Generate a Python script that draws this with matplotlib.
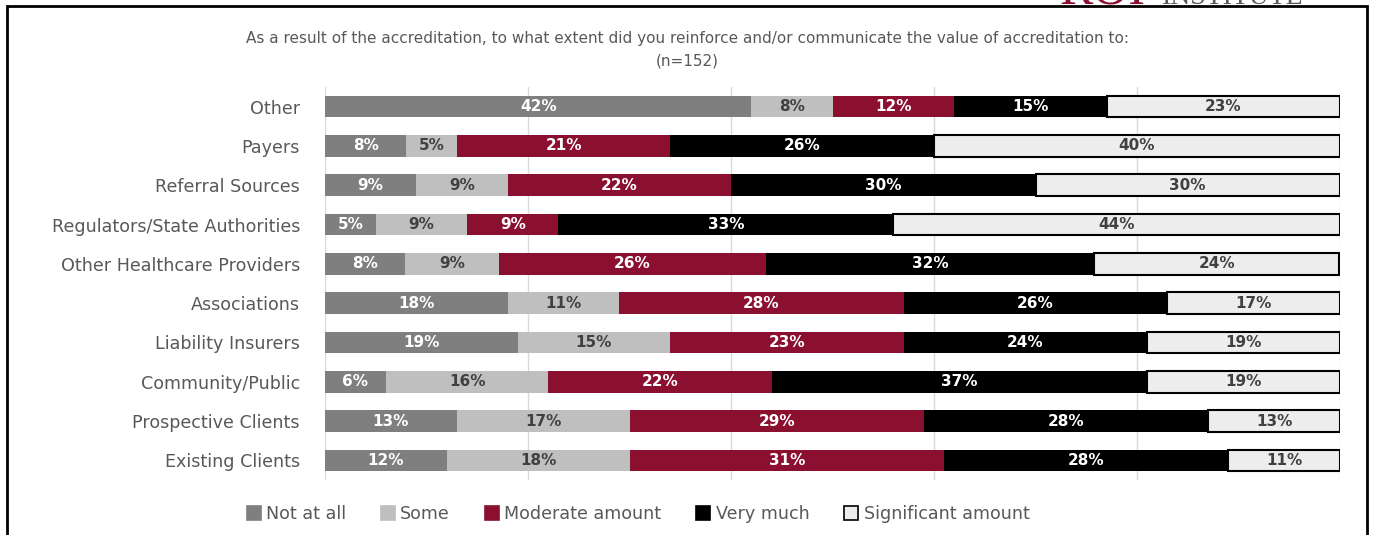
import numpy as np
import matplotlib.pyplot as plt
from matplotlib.patches import Rectangle, Patch

# categories top -> bottom
categories = ['Other', 'Payers', 'Referral Sources', 'Regulators/State Authorities',
              'Other Healthcare Providers', 'Associations', 'Liability Insurers',
              'Community/Public', 'Prospective Clients', 'Existing Clients']
series = ['Not at all', 'Some', 'Moderate amount', 'Very much', 'Significant amount']

not_at_all  = [42, 8, 9, 5, 7.9, 18, 19, 6, 13, 12]
some        = [8, 5, 9, 9, 9.2, 11, 15, 16, 17, 18]
moderate    = [12, 21, 22, 9, 26.3, 28, 23, 22, 29, 31]
very_much   = [15, 26, 30, 33, 32.4, 26, 24, 37, 28, 28]
significant = [23, 40, 30, 44, 24.1, 17, 19, 19, 13, 11]

colors = ['#7f7f7f', '#bfbfbf', '#8b1030', '#000000', '#ededed']
text_colors = ['white', '#404040', 'white', 'white', '#404040']

fig = plt.figure(figsize=(13.74, 5.35), dpi=100)
ax = fig.add_axes([325 / 1374, 1 - 480 / 535, 1015 / 1374, 393 / 535])

data = [not_at_all, some, moderate, very_much, significant]
y = np.arange(len(categories))
left = np.zeros(len(categories))
for i, vals in enumerate(data):
    vals = np.array(vals, dtype=float)
    ec = 'black' if i == 4 else 'none'
    lw = 1.5 if i == 4 else 0
    ax.barh(y, vals, left=left, height=0.55, color=colors[i], edgecolor=ec,
            linewidth=lw, label=series[i], zorder=3)
    for yy, l, v in zip(y, left, vals):
        ax.text(l + v / 2, yy, f'{v:.0f}%', ha='center', va='center',
                color=text_colors[i], fontsize=11, fontweight='bold', zorder=4)
    left += vals

ax.set_xlim(0, 100)
ax.set_ylim(len(categories) - 0.5, -0.5)
ax.set_yticks(y)
ax.set_yticklabels(categories, fontsize=12.6, color='#595959')
ax.set_xticks([0, 20, 40, 60, 80, 100])
ax.set_xticklabels([])
ax.tick_params(length=0, pad=26)
ax.tick_params(axis='y', pad=18)
ax.grid(axis='x', color='#d9d9d9', linewidth=1, zorder=0)
for s in ax.spines.values():
    s.set_visible(False)

fig.text(0.5, 1 - 39 / 535, 'As a result of the accreditation, to what extent did you reinforce and/or communicate the value of accreditation to:',
         ha='center', va='center', fontsize=11, color='#595959')
fig.text(0.5, 1 - 61 / 535, '(n=152)', ha='center', va='center', fontsize=11, color='#595959')

handles = [Patch(facecolor=c, edgecolor=('black' if i == 4 else c), linewidth=1.2)
           for i, c in enumerate(colors)]
fig.legend(handles, series, loc='center', bbox_to_anchor=(638 / 1374, 1 - 514 / 535),
           ncol=5, frameon=False, fontsize=12.6, labelcolor='#595959',
           handlelength=0.8, handleheight=0.8, handletextpad=0.3, columnspacing=2.0)

# frame around the chart
fig.add_artist(Rectangle((7 / 1374, -0.05), (1367 - 7) / 1374, 1 - 6 / 535 + 0.05,
                         transform=fig.transFigure, fill=False, edgecolor='black', linewidth=2))

# logo, cut off at the top
fig.text(1060 / 1374, 1 - 4 / 535, 'ROI', fontsize=36, family='Liberation Serif',
         color='#8b1030', va='baseline', ha='left')
fig.text(1162 / 1374, 1 - 4 / 535, 'INSTITUTE', fontsize=20, family='Liberation Serif',
         color='#595959', va='baseline', ha='left')

fig.savefig('out.png', dpi=100)
